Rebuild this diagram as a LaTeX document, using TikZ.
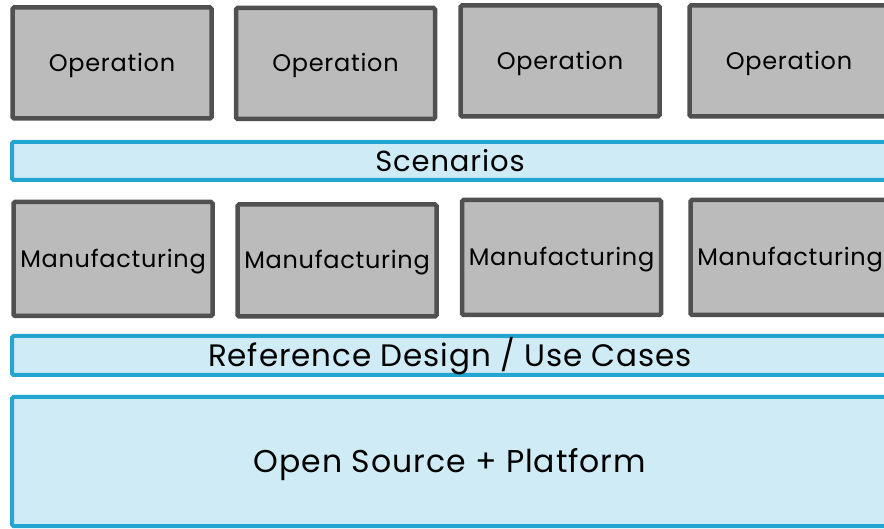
\documentclass[tikz,border=0pt]{standalone}
\usepackage{fontspec}
\setmainfont{Poppins}[LetterSpace=3]
\usepackage{tikz}

\definecolor{boxgray}{HTML}{BBBBBB}
\definecolor{edgegray}{HTML}{505050}
\definecolor{barblue}{HTML}{CFECF6}
\definecolor{edgeblue}{HTML}{22A5D0}

\begin{document}
\begin{tikzpicture}[x=1pt,y=-1pt,
    blockbox/.style={rectangle,rounded corners=1.5pt,draw=edgegray,fill=boxgray,line width=4.5pt,
      minimum width=199pt,minimum height=111pt,inner sep=0pt,text height=16.8pt,text depth=0pt,
      font=\fontsize{24}{28}\selectfont},
    layerbar/.style={rectangle,rounded corners=1.5pt,draw=edgeblue,fill=barblue,line width=4pt,
      minimum width=876pt,inner sep=0pt,text depth=0pt}]
    \useasboundingbox (0,0) rectangle (884,529);
    \clip (0,0) rectangle (884,529);

    % top row
    \node[blockbox] (op1) at (112, 63) {Operation};
    \node[blockbox] (op2) at (335.5, 63.5) {Operation};
    \node[blockbox] (op3) at (560, 61) {Operation};
    \node[blockbox] (op4) at (789, 61) {Operation};

    \node[layerbar,minimum height=38pt,text height=20.3pt,font=\fontsize{29}{32}\selectfont] (scen) at (450, 161) {Scenarios};

    % middle row
    \node[blockbox,minimum height=114pt] (mf1) at (113, 259) {Manufacturing};
    \node[blockbox,minimum height=112pt] (mf2) at (337, 260.5) {Manufacturing};
    \node[blockbox,minimum height=115pt] (mf3) at (561.5, 257.5) {Manufacturing};
    \node[blockbox,minimum height=115pt] (mf4) at (790, 257.5) {Manufacturing};

    \node[layerbar,minimum height=39pt,text height=21.7pt,font=\fontsize{31}{34}\selectfont] (refd) at (450, 355.5) {Reference Design / Use Cases};

    \node[layerbar,minimum height=129pt,text height=22pt,font=\fontsize{31.5}{35}\selectfont] (oss) at (450, 461.5) {Open Source + Platform};
  \end{tikzpicture}
\end{document}
